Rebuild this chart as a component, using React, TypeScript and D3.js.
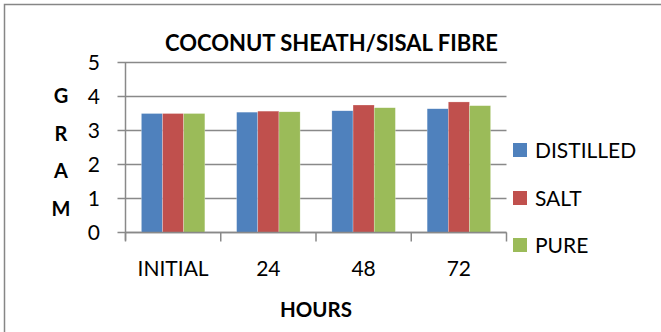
import React from "react";
import * as d3 from "d3";

const categories = ["INITIAL", "24", "48", "72"];
const seriesNames = ["DISTILLED", "SALT", "PURE"];
const distilled = [3.5, 3.54, 3.58, 3.64];
const salt = [3.5, 3.57, 3.75, 3.84];
const pure = [3.5, 3.55, 3.67, 3.73];
const yTicks = [0, 1, 2, 3, 4, 5];
const yTitleLetters = ["G", "R", "A", "M"];
const colors = ["#4F81BD", "#C0504D", "#9BBB59"];

const W = 661;
const H = 332;
const FONT = "Lato, 'Open Sans', sans-serif";

export default function App() {
  const series = [distilled, salt, pure];
  const x0 = 125.5, x1 = 506.5, yTop = 62.5, yBot = 232.5;
  const x = d3.scaleBand<string>().domain(categories).range([x0, x1]).paddingInner(0).paddingOuter(0);
  const xs = d3.scaleBand<string>().domain(seriesNames).range([0, x.bandwidth()]).paddingInner(0).paddingOuter(0.75);
  const y = d3.scaleLinear().domain([0, 5]).range([yBot, yTop]);
  const grid = "#898989";
  const tickBounds = [...categories.map((c) => x(c) as number), x1];
  const letterY = [103, 141, 178, 216];
  const legendY = [150, 198, 245];

  return (
    <svg width={W} height={H} style={{ position: "absolute", left: 0, top: 0, background: "#fff" }}>
      <rect x={0} y={0} width={W} height={H} fill="#fff" />
      <rect x={4.5} y={4.5} width={800} height={500} fill="none" stroke="#868686" strokeWidth={1.5} />
      <text x={331.5} y={51} textAnchor="middle" fontFamily={FONT} fontWeight="bold" fontSize={22} fill="#000" textLength={333} lengthAdjust="spacingAndGlyphs">
        COCONUT SHEATH/SISAL FIBRE
      </text>
      {yTicks.map((t) => (
        <g key={t}>
          <line x1={x0 - 8} x2={x1} y1={y(t)} y2={y(t)} stroke={grid} strokeWidth={1.5} />
          <text x={100} y={y(t) + 7.5} textAnchor="end" fontFamily={FONT} fontSize={21} fill="#000">
            {t}
          </text>
        </g>
      ))}
      <line x1={x0} x2={x0} y1={yTop} y2={yBot + 8} stroke={grid} strokeWidth={1.5} />
      {tickBounds.map((b, i) => (
        <line key={i} x1={b} x2={b} y1={yBot} y2={yBot + 9} stroke={grid} strokeWidth={1.5} />
      ))}
      {categories.map((c, ci) =>
        series.map((s, si) => (
          <rect
            key={c + si}
            x={(x(c) as number) + (xs(seriesNames[si]) as number)}
            y={y(s[ci])}
            width={xs.bandwidth()}
            height={yBot - y(s[ci])}
            fill={colors[si]}
            stroke="#ffffff"
            strokeOpacity={0.5}
            strokeWidth={0.5}
          />
        ))
      )}
      <line x1={x0} x2={x1} y1={yBot} y2={yBot} stroke={grid} strokeWidth={1.5} />
      {categories.map((c) => (
        <text key={c} x={(x(c) as number) + x.bandwidth() / 2} y={276} textAnchor="middle" fontFamily={FONT} fontSize={21} fill="#000">
          {c}
        </text>
      ))}
      <text x={316} y={317} textAnchor="middle" fontFamily={FONT} fontWeight="bold" fontSize={20.5} fill="#000">
        HOURS
      </text>
      {yTitleLetters.map((l, i) => (
        <text key={l} x={61} y={letterY[i]} textAnchor="middle" fontFamily={FONT} fontWeight="bold" fontSize={20} fill="#000">
          {l}
        </text>
      ))}
      {seriesNames.map((n, i) => (
        <g key={n}>
          <rect x={513} y={legendY[i] - 7} width={14} height={14} fill={colors[i]} />
          <text x={535} y={legendY[i] + 7.5} fontFamily={FONT} fontSize={21} fill="#000">
            {n}
          </text>
        </g>
      ))}
    </svg>
  );
}
